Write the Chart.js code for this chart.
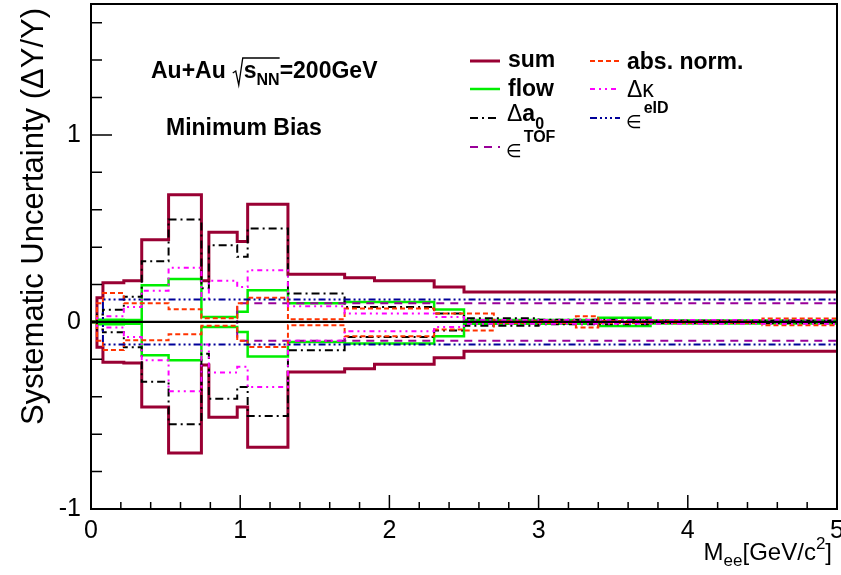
<!DOCTYPE html>
<html>
<head>
<meta charset="utf-8">
<script src="https://cdn.jsdelivr.net/npm/chart.js@4.4.0/dist/chart.umd.min.js"></script>
<style>
  html, body { margin: 0; padding: 0; background: #fff; }
  #wrap { width: 841px; height: 575px; }
</style>
</head>
<body>
<div id="wrap"><canvas id="syst" width="841" height="575"></canvas></div>
<script>
// bin edges in M_ee (GeV/c^2)
const binEdges = [0, 0.04, 0.08, 0.22, 0.34, 0.52, 0.74, 0.79, 0.98, 1.05, 1.32,
                  1.7, 1.9, 2.3, 2.5, 2.7, 3.0, 3.25, 3.4, 3.75, 4.5, 5.0];

// relative uncertainties per bin, upper and lower band
const sumUp  = [0, 0.13, 0.21, 0.22, 0.44, 0.68, 0.22, 0.48, 0.43, 0.63, 0.255, 0.237, 0.22, 0.187, 0.16, 0.16, 0.16, 0.16, 0.16, 0.16, 0.16];
const sumLo  = [0, -0.135, -0.215, -0.22, -0.455, -0.70, -0.23, -0.51, -0.455, -0.67, -0.267, -0.25, -0.226, -0.192, -0.157, -0.157, -0.157, -0.157, -0.157, -0.157, -0.157];
const flowUp = [0, 0.012, 0.012, 0.01, 0.196, 0.23, 0.027, 0.027, 0.054, 0.17, 0.10, 0.107, 0.107, 0.066, 0.01, 0.01, 0.01, 0.01, 0.022, 0.008, 0.008];
const flowLo = [0, -0.012, -0.012, -0.01, -0.178, -0.205, -0.027, -0.027, -0.053, -0.184, -0.107, -0.115, -0.115, -0.076, -0.01, -0.01, -0.01, -0.01, -0.022, -0.008, -0.008];
const a0Up   = [0, 0.04, 0.065, 0.135, 0.325, 0.548, 0.18, 0.41, 0.348, 0.50, 0.152, 0.08, 0.08, 0.045, 0.02, 0.02, 0.012, 0.012, 0.012, 0.006, 0.006];
const a0Lo   = [0, -0.04, -0.055, -0.135, -0.32, -0.547, -0.17, -0.41, -0.348, -0.503, -0.151, -0.08, -0.08, -0.045, -0.02, -0.02, -0.012, -0.012, -0.012, -0.006, -0.006];
const tofUp  = [0, 0, 0, 0, 0, 0, 0, 0, 0.10, 0.10, 0.10, 0.10, 0.10, 0.10, 0.10, 0.10, 0.10, 0.10, 0.10, 0.10, 0.10];
const tofLo  = [0, 0, 0, 0, 0, 0, 0, 0, -0.10, -0.10, -0.10, -0.10, -0.10, -0.10, -0.10, -0.10, -0.10, -0.10, -0.10, -0.10, -0.10];
const absUp  = [0, 0.10, 0.155, 0.10, 0.10, 0.068, 0.02, 0.02, 0.10, 0.13, 0.015, 0.072, 0.072, 0.045, 0.045, 0.005, 0.005, 0.03, 0.005, 0.005, 0.018];
const absLo  = [0, -0.10, -0.15, -0.098, -0.098, -0.066, -0.02, -0.02, -0.10, -0.134, -0.017, -0.076, -0.076, -0.04, -0.045, -0.005, -0.005, -0.03, -0.005, -0.005, -0.018];
const kapUp  = [0, 0.02, 0.03, 0.08, 0.167, 0.29, 0.12, 0.22, 0.187, 0.277, 0.084, 0.045, 0.045, 0.027, 0.01, 0.01, 0.01, 0.01, 0.01, 0.01, 0.01];
const kapLo  = [0, -0.02, -0.03, -0.08, -0.205, -0.37, -0.12, -0.27, -0.24, -0.348, -0.10, -0.05, -0.05, -0.027, -0.01, -0.01, -0.01, -0.01, -0.01, -0.01, -0.01];
const eidUp  = [0, 0, 0.12, 0.12, 0.12, 0.12, 0.12, 0.12, 0.12, 0.12, 0.12, 0.12, 0.12, 0.12, 0.12, 0.12, 0.12, 0.12, 0.12, 0.12, 0.12];
const eidLo  = [0, 0, -0.12, -0.12, -0.12, -0.12, -0.12, -0.12, -0.12, -0.12, -0.12, -0.12, -0.12, -0.12, -0.12, -0.12, -0.12, -0.12, -0.12, -0.12, -0.12];

const xTickLabels = [0, 1, 2, 3, 4, 5];
const yTickLabels = [-1, 0, 1];

const FONT = "'Liberation Sans', 'DejaVu Sans', Arial, sans-serif";

// histogram outline: value of bin i starts at its low edge
function steps(vals) {
  const pts = vals.map((v, i) => ({ x: binEdges[i], y: v }));
  pts.push({ x: binEdges[binEdges.length - 1], y: vals[vals.length - 1] });
  return pts;
}

const styles = {
  sum:  { color: '#990033', width: 3,   dash: [] },
  flow: { color: '#00ee00', width: 2.5, dash: [] },
  a0:   { color: '#000000', width: 2,   dash: [8, 4, 2, 4] },
  tof:  { color: '#990099', width: 2,   dash: [8, 6] },
  abs:  { color: '#ff3300', width: 2,   dash: [5, 3] },
  kap:  { color: '#ff00ff', width: 2,   dash: [5, 4, 2, 4, 2, 4] },
  eid:  { color: '#000099', width: 2,   dash: [7, 3, 2, 3, 2, 3, 2, 3] }
};

function band(up, lo, st, order) {
  return [up, lo].map(v => ({
    data: steps(v),
    borderColor: st.color,
    borderWidth: st.width,
    borderDash: st.dash,
    stepped: 'before',
    pointRadius: 0,
    fill: false,
    order: order
  }));
}

const datasets = [
  { data: [{ x: 0, y: 0 }, { x: 5, y: 0 }], borderColor: '#000', borderWidth: 2.2, pointRadius: 0, order: 0 },
  ...band(eidUp, eidLo, styles.eid, 1),
  ...band(kapUp, kapLo, styles.kap, 2),
  ...band(absUp, absLo, styles.abs, 3),
  ...band(tofUp, tofLo, styles.tof, 4),
  ...band(a0Up, a0Lo, styles.a0, 5),
  ...band(flowUp, flowLo, styles.flow, 6),
  ...band(sumUp, sumLo, styles.sum, 7)
];

// draws a run of text pieces [text, font, dy, extra gap] from x on baseline y
function rich(ctx, x, y, parts) {
  ctx.textAlign = 'left';
  ctx.textBaseline = 'alphabetic';
  parts.forEach(p => {
    ctx.font = p[1];
    ctx.fillText(p[0], x, y + (p[2] || 0));
    x += ctx.measureText(p[0]).width + (p[3] || 0);
  });
  return x;
}

const decor = {
  id: 'decor',
  beforeDraw(chart) {
    const ctx = chart.ctx;
    ctx.save();
    ctx.fillStyle = '#fff';
    ctx.fillRect(0, 0, chart.width, chart.height);
    ctx.restore();
  },
  afterDraw(chart) {
    const ctx = chart.ctx;
    const xs = chart.scales.x, ys = chart.scales.y;
    const a = chart.chartArea;
    ctx.save();
    ctx.strokeStyle = '#000';
    ctx.fillStyle = '#000';
    ctx.setLineDash([]);

    // frame
    ctx.lineWidth = 2;
    ctx.strokeRect(a.left, a.top, a.right - a.left, a.bottom - a.top);

    // ticks (inside the frame)
    ctx.lineWidth = 1.5;
    ctx.beginPath();
    for (let k = 0; k <= 25; k++) {
      const px = xs.getPixelForValue(k * 0.2);
      const len = k % 5 === 0 ? 14 : 7;
      ctx.moveTo(px, a.bottom);
      ctx.lineTo(px, a.bottom - len);
    }
    for (let k = 0; k <= 13; k++) {
      const v = -1 + k * 0.2;
      const py = ys.getPixelForValue(v);
      const len = k % 5 === 0 ? 21 : 11;
      ctx.moveTo(a.left, py);
      ctx.lineTo(a.left + len, py);
    }
    ctx.stroke();

    // tick labels
    ctx.font = '25px ' + FONT;
    ctx.textAlign = 'center';
    ctx.textBaseline = 'alphabetic';
    xTickLabels.forEach(v => ctx.fillText(String(v), xs.getPixelForValue(v), 538));
    ctx.textAlign = 'right';
    ctx.textBaseline = 'middle';
    yTickLabels.forEach(v => ctx.fillText(String(v), 81, ys.getPixelForValue(v)));

    // axis titles
    const parts = [['M', '24px ' + FONT, 0], ['ee', '17px ' + FONT, 6], ['[GeV/c', '24px ' + FONT, 0],
                   ['2', '17px ' + FONT, -11], [']', '24px ' + FONT, 0]];
    let xw = 0;
    parts.forEach(p => { ctx.font = p[1]; xw += ctx.measureText(p[0]).width; });
    rich(ctx, 832 - xw, 560, parts);

    ctx.save();
    ctx.translate(43, 8);
    ctx.rotate(-Math.PI / 2);
    ctx.font = '31px ' + FONT;
    ctx.textAlign = 'right';
    ctx.textBaseline = 'alphabetic';
    ctx.fillText('Systematic Uncertainty (\u0394Y/Y)', 0, 0);
    ctx.restore();

    // annotations
    const B = 'bold 23px ' + FONT, Bs = 'bold 16px ' + FONT;
    let x = rich(ctx, 151, 78, [['Au+Au', B, 0]]);
    x += 7;
    ctx.lineWidth = 1.3;
    ctx.beginPath();
    ctx.moveTo(x, 73);
    ctx.lineTo(x + 3, 71);
    ctx.lineTo(x + 6, 85);
    ctx.lineTo(x + 10, 58);
    const sx = x + 10;
    let ex = rich(ctx, sx + 1, 78, [['s', B, 0]]);
    ex = rich(ctx, ex, 78, [['NN', Bs, 7]]);
    ctx.lineTo(ex, 58);
    ctx.stroke();
    rich(ctx, ex, 78, [['=200GeV', B, 0]]);
    rich(ctx, 166, 135, [['Minimum Bias', B, 0]]);

    // legend
    const R = '23px ' + FONT, E = '18px ' + FONT;
    const sample = (x1, y, st) => {
      ctx.save();
      ctx.strokeStyle = st.color;
      ctx.lineWidth = st.width;
      ctx.setLineDash(st.dash);
      ctx.beginPath();
      ctx.moveTo(x1, y);
      ctx.lineTo(x1 + 30, y);
      ctx.stroke();
      ctx.restore();
    };
    sample(470, 61, styles.sum);
    sample(470, 89, styles.flow);
    sample(470, 118, styles.a0);
    sample(470, 147, styles.tof);
    sample(590, 61, styles.abs);
    sample(590, 89, styles.kap);
    sample(590, 118, styles.eid);

    rich(ctx, 508, 67, [['sum', B, 0]]);
    rich(ctx, 508, 96, [['flow', B, 0]]);
    rich(ctx, 507, 121, [['\u0394', R, 0], ['a', B, 0], ['0', Bs, 8]]);
    rich(ctx, 506, 157, [['\u2208', E, 0, 2], ['TOF', Bs, -15]]);
    rich(ctx, 627, 69, [['abs. norm.', B, 0]]);
    rich(ctx, 627, 97, [['\u0394\u03ba', R, 0]]);
    rich(ctx, 626, 128, [['\u2208', E, 0, 2], ['eID', Bs, -15]]);

    ctx.restore();
  }
};

new Chart(document.getElementById('syst'), {
  type: 'line',
  data: { datasets: datasets },
  options: {
    responsive: false,
    animation: false,
    devicePixelRatio: 1,
    layout: { padding: { left: 91, right: 4, top: 4, bottom: 66 } },
    plugins: { legend: { display: false }, tooltip: { enabled: false } },
    scales: {
      x: { type: 'linear', min: 0, max: 5, display: false },
      y: { type: 'linear', min: -1, max: 1.7, display: false }
    }
  },
  plugins: [decor]
});
</script>
</body>
</html>
